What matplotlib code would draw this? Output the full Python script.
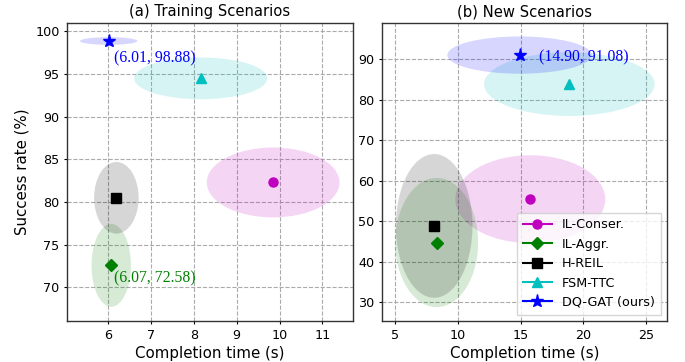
import matplotlib.pyplot as plt
from matplotlib.patches import Ellipse

methods = ["IL-Conser.", "IL-Aggr.", "H-REIL", "FSM-TTC", "DQ-GAT (ours)"]
colors = ["m", "g", "k", "c", "b"]
markers = ["o", "D", "s", "^", "*"]
msizes = [6.5, 6, 6.5, 6.5, 9.5]

# training scenarios: mean time, mean success, ellipse width / height
train_time = [9.85, 6.07, 6.19, 8.16, 6.01]
train_succ = [82.3, 72.58, 80.5, 94.5, 98.88]
train_w = [3.1, 0.92, 1.04, 3.11, 1.34]
train_h = [8.2, 9.7, 8.4, 4.9, 0.9]

# new scenarios
new_time = [15.76, 8.3, 8.1, 18.87, 14.90]
new_succ = [55.5, 44.8, 48.9, 83.9, 91.08]
new_w = [11.95, 6.6, 6.1, 13.6, 11.5]
new_h = [21.7, 31.9, 35.5, 15.7, 9.2]

fig = plt.figure(figsize=(6.85, 3.62), dpi=100)
ax1 = fig.add_axes([0.098, 0.113, 0.417, 0.823])
ax2 = fig.add_axes([0.558, 0.113, 0.416, 0.823])


def draw(ax, xs, ys, ws, hs):
    for i in range(len(methods)):
        e = Ellipse((xs[i], ys[i]), ws[i], hs[i], color=colors[i], alpha=0.16, lw=0)
        ax.add_patch(e)
        ax.plot(xs[i], ys[i], marker=markers[i], color=colors[i], ms=msizes[i],
                label=methods[i], zorder=5)
    ax.grid(True, linestyle="--", color="#aaaaaa", lw=0.8)
    ax.set_axisbelow(True)
    ax.set_xlabel("Completion time (s)", fontsize=10.8, labelpad=3.5)
    ax.tick_params(labelsize=9.2, length=2.5, pad=2.9)
    for s in ax.spines.values():
        s.set_color("#333333")
        s.set_linewidth(1.0)


draw(ax1, train_time, train_succ, train_w, train_h)
ax1.set_xlim(5.04, 11.71)
ax1.set_ylim(66.05, 100.97)
ax1.set_xticks([6, 7, 8, 9, 10, 11])
ax1.set_yticks([70, 75, 80, 85, 90, 95, 100])
ax1.set_ylabel("Success rate (%)", fontsize=10.8)
ax1.set_title("(a) Training Scenarios", fontsize=10.6, pad=5)
ax1.text(6.14, 96.9, "(%.2f, %.2f)" % (train_time[4], train_succ[4]), color="b",
         family="Liberation Serif", fontsize=11.3, va="center")
ax1.text(6.14, 71.1, "(%.2f, %.2f)" % (train_time[1], train_succ[1]), color="g",
         family="Liberation Serif", fontsize=11.3, va="center")

draw(ax2, new_time, new_succ, new_w, new_h)
ax2.set_xlim(3.96, 26.67)
ax2.set_ylim(25.4, 98.96)
ax2.set_xticks([5, 10, 15, 20, 25])
ax2.set_yticks([30, 40, 50, 60, 70, 80, 90])
ax2.set_title("(b) New Scenarios", fontsize=10.6, pad=5)
ax2.text(16.47, 90.6, "(%.2f, %.2f)" % (new_time[4], new_succ[4]), color="b",
         family="Liberation Serif", fontsize=11.3, va="center")
ax2.legend(loc="lower right", fontsize=9.2, fancybox=False, edgecolor="#cccccc",
           handlelength=2.3, borderpad=0.45, labelspacing=0.5)

fig.savefig("out.png", dpi=100)
